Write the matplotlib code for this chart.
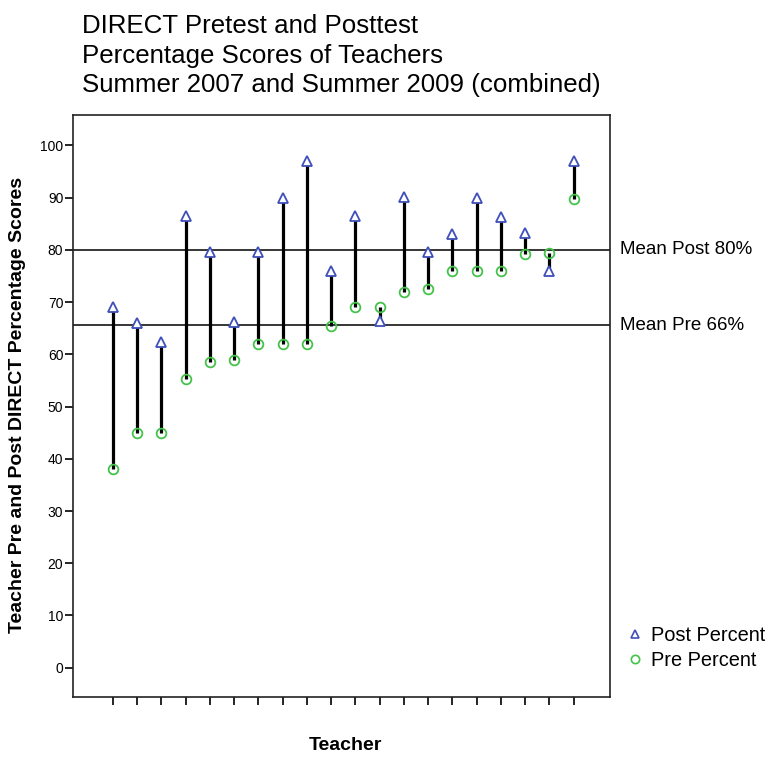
import matplotlib
matplotlib.use("Agg")
import matplotlib.pyplot as plt
import matplotlib.transforms as mtransforms
from matplotlib.lines import Line2D
import numpy as np

plt.rcParams['font.family'] = ['Liberation Sans', 'DejaVu Sans']

# teacher number (sorted by pretest score) and percentage scores
teachers = np.arange(1, 21)
pre_pct = [38, 45, 45, 55.3, 58.6, 59, 62, 62, 62, 65.5,
           69, 69, 72, 72.4, 76, 76, 76, 79.2, 79.3, 89.8]
post_pct = [69, 66, 62.3, 86.4, 79.5, 66.2, 79.5, 90, 97, 76,
            86.4, 66.3, 90.2, 79.5, 83, 90, 86.3, 83.3, 76, 97]
mean_post = 80
mean_pre = 65.6
mean_labels = ["Mean Post 80%", "Mean Pre 66%"]
yticks = np.arange(0, 101, 10)

blue = "#3F4FB8"
green = "#45C24A"

fig = plt.figure(figsize=(7.70, 7.57), dpi=100)
ax = fig.add_axes([73 / 770, 1 - 697 / 757, 537 / 770, 582 / 757])

# connector lines from pre to post score
ax.vlines(teachers, pre_pct, post_pct, colors="black", linewidth=2.3, zorder=2)

# mean reference lines
ax.axhline(mean_post, color="black", linewidth=1.1, zorder=1)
ax.axhline(mean_pre, color="black", linewidth=1.1, zorder=1)
trans = mtransforms.blended_transform_factory(ax.transAxes, ax.transData)
ax.text(1.019, mean_post, mean_labels[0], transform=trans, fontsize=13.5, va="center", ha="left")
ax.text(1.019, mean_pre, mean_labels[1], transform=trans, fontsize=13.5, va="center", ha="left")

ax.plot(teachers, post_pct, linestyle="none", marker="^", markersize=7,
        markerfacecolor="white", markeredgecolor=blue, markeredgewidth=1.3, zorder=3)
ax.plot(teachers, pre_pct, linestyle="none", marker="o", markersize=7,
        markerfacecolor="none", markeredgecolor=green, markeredgewidth=1.3, zorder=3)

ax.set_xlim(-0.65, 21.5)
ax.set_ylim(-5.6, 105.8)
ax.set_yticks(yticks)
ax.set_yticklabels([str(v) for v in yticks], fontsize=10)
ax.set_xticks(teachers)
ax.set_xticklabels([])
ax.tick_params(axis="both", direction="out", length=6, width=1.2, color="black")
ax.tick_params(axis="y", pad=1)
for sp in ax.spines.values():
    sp.set_linewidth(1.2)
    sp.set_color("#222222")

handles = [
    Line2D([], [], linestyle="none", marker="^", markersize=6, markerfacecolor="white",
           markeredgecolor=blue, markeredgewidth=1.2, label="Post Percent"),
    Line2D([], [], linestyle="none", marker="o", markersize=6, markerfacecolor="none",
           markeredgecolor=green, markeredgewidth=1.2, label="Pre Percent"),
]
fig.legend(handles=handles, loc="upper left", bbox_to_anchor=(627 / 770, 1 - 626 / 757),
           frameon=False, fontsize=14.4, handlelength=0.8, handletextpad=0.4,
           labelspacing=0.3, borderpad=0, borderaxespad=0)

fig.text(82 / 770, 1 - 14 / 757,
         "DIRECT Pretest and Posttest\nPercentage Scores of Teachers\nSummer 2007 and Summer 2009 (combined)",
         fontsize=18.6, ha="left", va="top", linespacing=1.3)
fig.text(18 / 770, 1 - 405 / 757, "Teacher Pre and Post DIRECT Percentage Scores",
         fontsize=14, fontweight="bold", rotation=90, ha="center", va="center")
fig.text(345 / 770, 1 - 746 / 757, "Teacher", fontsize=14, fontweight="bold",
         ha="center", va="center")

fig.savefig("out.png", dpi=100)
